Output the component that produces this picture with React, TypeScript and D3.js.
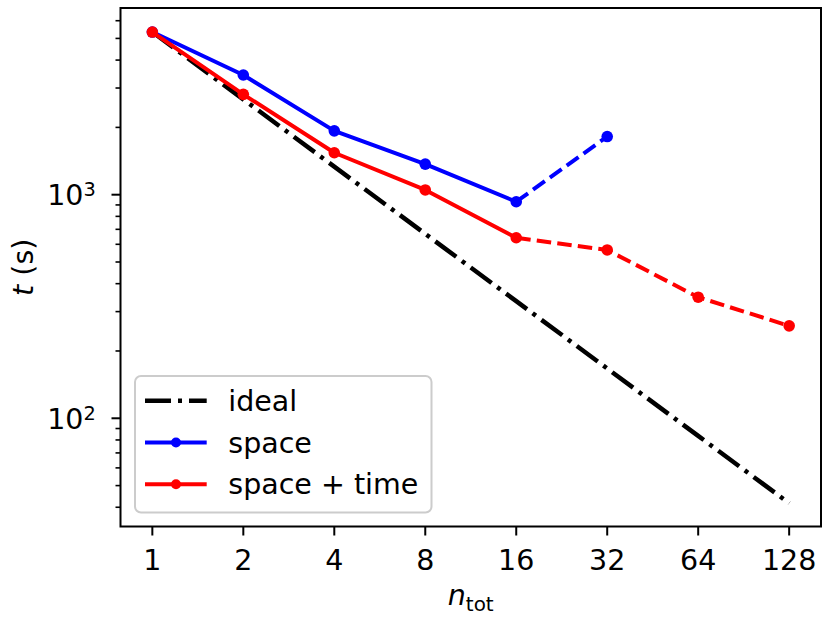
import React from "react";
import * as d3 from "d3";

// scaling test: number of nodes vs wall time
const nodes = [1, 2, 4, 8, 16, 32, 64, 128];
const idealT = [5340, 2670, 1335, 668, 334, 167, 83.4, 41.7];
const spaceT = [5340, 3430, 1930, 1370, 930, 1820];
const spaceTimeT = [5340, 2810, 1540, 1050, 642, 566, 348, 259];
const xTicks = [1, 2, 4, 8, 16, 32, 64, 128];
const yMajor = [100, 1000];
const yMinor = [40, 50, 60, 70, 80, 90, 200, 300, 400, 500, 600, 700, 800, 900, 2000, 3000, 4000, 5000, 6000];

const W = 830, H = 623;
const L = 120.5, R = 821, T = 8, B = 526.5;
const FONT = "DejaVu Sans, sans-serif";
const FS = 28.5;

export default function App() {
  const x = d3.scaleLog().base(2).domain([2 ** -0.35, 2 ** 7.35]).range([L, R]);
  const y = d3.scaleLog().domain([10 ** 1.516, 10 ** 3.835]).range([B, T]);
  const line = d3.line<[number, number]>().x(d => x(d[0])).y(d => y(d[1]));
  const pts = (vals: number[]) => vals.map((v, i) => [nodes[i], v] as [number, number]);

  const ideal = pts(idealT);
  const sp = pts(spaceT);
  const st = pts(spaceTimeT);
  const solidN = 5; // up to 16 nodes solid, beyond dashed

  const series = [
    { data: sp, color: "#0000ff" },
    { data: st, color: "#ff0000" },
  ];

  const legend = [
    { label: "ideal", color: "#000000", dash: "26 7 4 7", marker: false },
    { label: "space", color: "#0000ff", dash: "", marker: true },
    { label: "space + time", color: "#ff0000", dash: "", marker: true },
  ];

  return (
    <svg width={W} height={H} style={{ position: "absolute", left: 0, top: 0, background: "#fff" }}>
      <defs>
        <clipPath id="plot">
          <rect x={L} y={T} width={R - L} height={B - T} />
        </clipPath>
      </defs>
      <g clipPath="url(#plot)">
        <path d={line(ideal) || ""} fill="none" stroke="#000" strokeWidth={4.5} strokeDasharray="26 7 4 7" />
        {series.map((s, k) => (
          <g key={k}>
            <path d={line(s.data.slice(0, solidN)) || ""} fill="none" stroke={s.color} strokeWidth={4} strokeLinejoin="round" />
            <path d={line(s.data.slice(solidN - 1)) || ""} fill="none" stroke={s.color} strokeWidth={4} strokeDasharray="14.5 6.2" />
            {s.data.map((d, i) => (
              <circle key={i} cx={x(d[0])} cy={y(d[1])} r={5.8} fill={s.color} />
            ))}
          </g>
        ))}
      </g>
      {/* frame */}
      <rect x={L} y={T} width={R - L} height={B - T} fill="none" stroke="#000" strokeWidth={2} />
      {/* x ticks */}
      {xTicks.map(t => (
        <g key={t} transform={`translate(${x(t)},${B})`}>
          <line y2={9} stroke="#000" strokeWidth={2} />
          <text y={43} textAnchor="middle" fontFamily={FONT} fontSize={FS}>{t}</text>
        </g>
      ))}
      {/* y ticks */}
      {yMinor.map(t => (
        <line key={t} x1={L - 5} x2={L} y1={y(t)} y2={y(t)} stroke="#000" strokeWidth={1.6} />
      ))}
      {yMajor.map(t => (
        <g key={t} transform={`translate(${L},${y(t)})`}>
          <line x1={-9} stroke="#000" strokeWidth={2} />
          <text x={-37} y={10.5} textAnchor="end" fontFamily={FONT} fontSize={FS}>
            10
          </text>
          <text x={-37} y={1.3} fontFamily={FONT} fontSize={FS * 0.68}>
            {Math.round(Math.log10(t))}
          </text>
        </g>
      ))}
      {/* axis labels */}
      <text x={(L + R) / 2} y={605} textAnchor="middle" fontFamily={FONT} fontSize={FS}>
        <tspan fontStyle="italic">n</tspan>
        <tspan fontSize={FS * 0.7} dy={6}>tot</tspan>
      </text>
      <text transform={`translate(33,${(T + B) / 2}) rotate(-90)`} textAnchor="middle" fontFamily={FONT} fontSize={FS}>
        <tspan fontStyle="italic">t</tspan> (s)
      </text>
      {/* legend */}
      <rect x={135} y={376} width={296.5} height={136.5} rx={6} fill="#fff" fillOpacity={0.8} stroke="#cccccc" strokeWidth={2} />
      {legend.map((l, i) => {
        const ly = 400.7 + i * 41.8;
        return (
          <g key={l.label}>
            <line x1={145} x2={206.7} y1={ly} y2={ly} stroke={l.color} strokeWidth={l.marker ? 4 : 4.5} strokeDasharray={l.dash || undefined} />
            {l.marker && <circle cx={176} cy={ly} r={5} fill={l.color} />}
            <text x={228.3} y={ly + 10} fontFamily={FONT} fontSize={FS}>{l.label}</text>
          </g>
        );
      })}
    </svg>
  );
}
